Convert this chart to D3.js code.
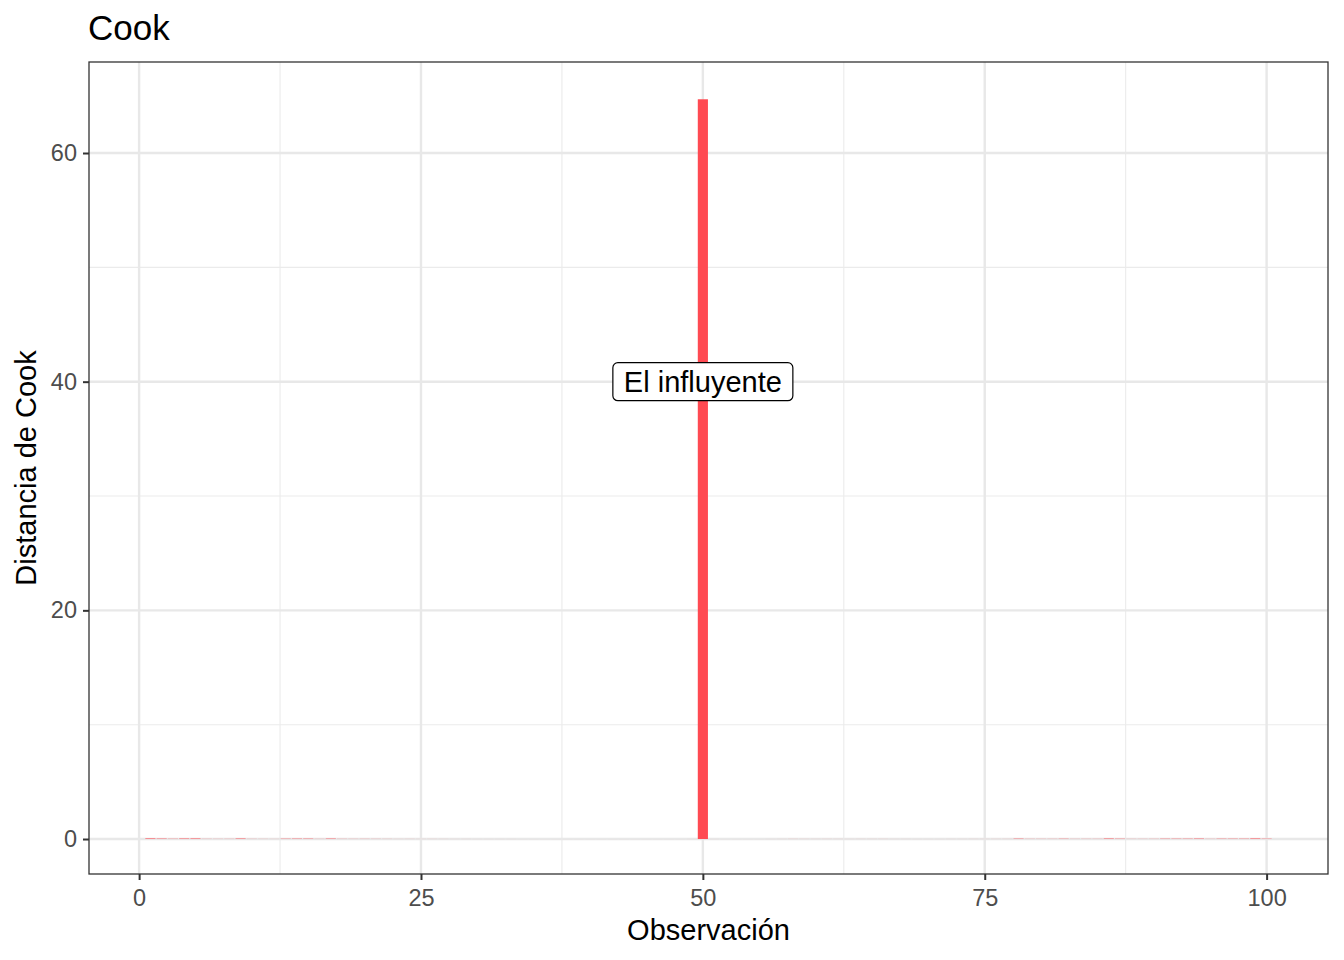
<!DOCTYPE html>
<html>
<head>
<meta charset="utf-8">
<script src="https://cdn.jsdelivr.net/npm/d3@7"></script>
<style>
  body { margin: 0; background: #fff; }
  text { font-family: "Liberation Sans", Arial, Helvetica, sans-serif; }
</style>
</head>
<body>
<div id="chart"></div>
<script>
// observations 1..100 and their Cook distances
var observacion = d3.range(1, 101);
var cook = [
  0.050, 0.035, 0.020, 0.040, 0.045, 0.012, 0.010, 0.012, 0.040, 0.010,
  0.008, 0.006, 0.025, 0.030, 0.030, 0.010, 0.035, 0.012, 0.010, 0.012,
  0.010, 0.008, 0.005, 0.006, 0.004, 0.005, 0.004, 0.003, 0.003, 0.002,
  0.002, 0.002, 0.002, 0.001, 0.001, 0.001, 0.001, 0.001, 0.001, 0.001,
  0.001, 0.001, 0.001, 0.001, 0.001, 0.001, 0.001, 0.001, 0.002, 64.7,
  0.002, 0.001, 0.001, 0.001, 0.001, 0.002, 0.003, 0.006, 0.005, 0.004,
  0.005, 0.004, 0.003, 0.004, 0.004, 0.005, 0.003, 0.003, 0.002, 0.002,
  0.002, 0.003, 0.003, 0.004, 0.004, 0.005, 0.006, 0.030, 0.012, 0.012,
  0.012, 0.022, 0.010, 0.012, 0.012, 0.040, 0.025, 0.010, 0.010, 0.012,
  0.025, 0.025, 0.025, 0.035, 0.012, 0.025, 0.025, 0.025, 0.045, 0.025
];
var xTicks = [0, 25, 50, 75, 100];
var xMinor = [12.5, 37.5, 62.5, 87.5];
var yTicks = [0, 20, 40, 60];
var yMinor = [10, 30, 50];
var etiqueta = {obs: 50, y: 40, text: "El influyente"};

var width = 1344, height = 960,
    margin = {top: 62, right: 16, bottom: 86, left: 89},
    pw = width - margin.left - margin.right,
    ph = height - margin.top - margin.bottom,
    barColor = "#FF4A52";

var data = observacion.map(function(d, i) { return {obs: d, value: cook[i]}; });

var x = d3.scaleLinear().domain([-4.445, 105.445]).range([0, pw]);
var y = d3.scaleLinear().domain([-3.06, 67.96]).range([ph, 0]);

var svg = d3.select("#chart").append("svg")
    .attr("width", width)
    .attr("height", height);

svg.append("text")
    .attr("x", 88)
    .attr("y", 40)
    .attr("font-size", 35)
    .attr("fill", "#000")
    .text("Cook");

var g = svg.append("g")
    .attr("transform", "translate(" + margin.left + "," + margin.top + ")");

// grid
g.selectAll(".minor-x").data(xMinor).enter().append("line")
    .attr("x1", function(d) { return x(d); }).attr("x2", function(d) { return x(d); })
    .attr("y1", 0).attr("y2", ph)
    .attr("stroke", "#EBEBEB").attr("stroke-width", 1.1);
g.selectAll(".minor-y").data(yMinor).enter().append("line")
    .attr("y1", function(d) { return y(d); }).attr("y2", function(d) { return y(d); })
    .attr("x1", 0).attr("x2", pw)
    .attr("stroke", "#EBEBEB").attr("stroke-width", 1.1);
g.selectAll(".major-x").data(xTicks).enter().append("line")
    .attr("x1", function(d) { return x(d); }).attr("x2", function(d) { return x(d); })
    .attr("y1", 0).attr("y2", ph)
    .attr("stroke", "#E8E8E8").attr("stroke-width", 2.4);
g.selectAll(".major-y").data(yTicks).enter().append("line")
    .attr("y1", function(d) { return y(d); }).attr("y2", function(d) { return y(d); })
    .attr("x1", 0).attr("x2", pw)
    .attr("stroke", "#E8E8E8").attr("stroke-width", 2.4);

// bars
g.selectAll("rect.bar").data(data).enter().append("rect")
    .attr("class", "bar")
    .attr("x", function(d) { return x(d.obs - 0.45); })
    .attr("width", function(d) { return x(d.obs + 0.45) - x(d.obs - 0.45); })
    .attr("y", function(d) { return y(d.value); })
    .attr("height", function(d) { return y(0) - y(d.value); })
    .attr("fill", barColor);

// label
var lab = g.append("g")
    .attr("transform", "translate(" + x(etiqueta.obs) + "," + y(etiqueta.y) + ")");
var labText = lab.append("text")
    .attr("text-anchor", "middle")
    .attr("dy", "0.36em")
    .attr("font-size", 29)
    .attr("fill", "#000")
    .text(etiqueta.text);
var bb = labText.node().getBBox();
lab.insert("rect", "text")
    .attr("x", -bb.width / 2 - 11)
    .attr("y", -19)
    .attr("width", bb.width + 22)
    .attr("height", 38)
    .attr("rx", 5).attr("ry", 5)
    .attr("fill", "#fff")
    .attr("stroke", "#000")
    .attr("stroke-width", 1.2);

// panel border
g.append("rect")
    .attr("width", pw).attr("height", ph)
    .attr("fill", "none")
    .attr("stroke", "#333333")
    .attr("stroke-width", 1.3);

// axes
var xAxis = g.append("g")
    .attr("transform", "translate(0," + ph + ")")
    .call(d3.axisBottom(x).tickValues(xTicks).tickSize(6).tickPadding(9));
var yAxis = g.append("g")
    .call(d3.axisLeft(y).tickValues(yTicks).tickSize(6).tickPadding(6));
[xAxis, yAxis].forEach(function(a) {
  a.select(".domain").remove();
  a.selectAll(".tick line").attr("stroke", "#333333").attr("stroke-width", 2);
  a.selectAll(".tick text")
      .attr("fill", "#4D4D4D")
      .attr("font-size", 23.5)
      .attr("font-family", "Liberation Sans, Arial, sans-serif");
});

svg.append("text")
    .attr("x", margin.left + pw / 2)
    .attr("y", 940)
    .attr("text-anchor", "middle")
    .attr("font-size", 29)
    .attr("fill", "#000")
    .text("Observación");

svg.append("text")
    .attr("transform", "translate(36," + (margin.top + ph / 2) + ") rotate(-90)")
    .attr("text-anchor", "middle")
    .attr("font-size", 29)
    .attr("fill", "#000")
    .text("Distancia de Cook");
</script>
</body>
</html>
